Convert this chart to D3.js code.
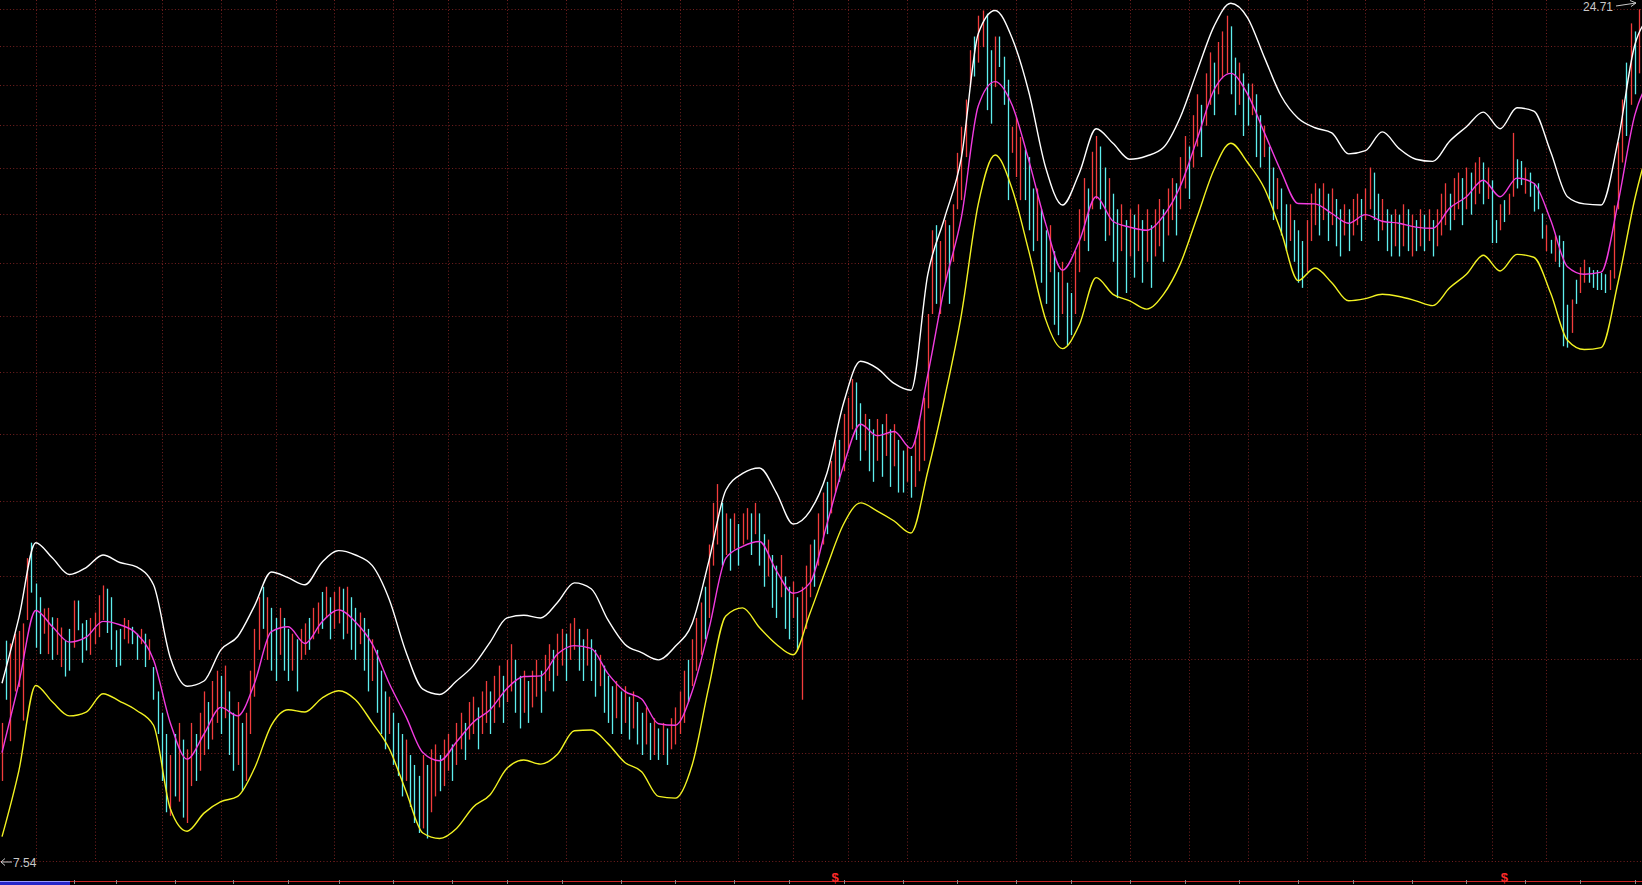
<!DOCTYPE html>
<html><head><meta charset="utf-8">
<script src="https://cdn.jsdelivr.net/npm/d3@7/dist/d3.min.js"></script>
<style>html,body{margin:0;padding:0;background:#000;overflow:hidden}</style>
</head><body>
<svg id="c" width="1642" height="885"></svg>
<script>
// daily lows / highs (price), and direction r = up (red), c = down (cyan)
const lows = [
8.43,9.44,8.91,9.55,9.61,9.17,10.55,10.96,10.15,10.06,
10.35,10.06,9.98,10.05,9.88,9.75,9.83,10.15,10.40,9.94,
10.11,10.05,10.20,10.30,10.55,10.36,10.12,9.88,9.90,10.27,
10.21,10.20,9.98,10.20,9.88,9.98,9.44,9.00,8.43,8.07,
8.03,8.25,8.19,8.01,7.95,8.37,8.43,8.55,8.74,8.81,
8.93,9.14,9.00,9.20,8.74,8.55,8.62,8.31,8.43,9.00,
9.48,10.12,10.42,9.98,9.83,9.69,10.05,9.83,9.69,9.83,
9.55,9.98,10.05,10.12,10.27,10.35,10.42,10.58,10.27,10.42,
10.50,10.27,10.35,10.12,9.98,10.20,9.83,9.55,9.69,9.27,
9.00,8.81,9.00,8.62,8.49,8.25,8.43,8.13,7.95,7.84,
7.89,7.78,8.07,8.25,8.31,8.37,8.55,8.43,8.62,8.81,
8.68,8.93,9.00,8.81,9.00,9.14,9.00,9.14,9.34,9.14,
9.41,9.55,9.27,9.07,9.27,9.14,9.34,9.48,9.27,9.55,
9.69,9.55,9.76,9.90,9.69,9.98,10.12,9.83,9.69,9.90,
9.69,9.48,9.62,9.27,9.14,9.00,9.20,9.00,9.14,8.93,
9.07,8.87,8.74,8.87,8.68,8.74,8.68,8.74,8.62,8.81,
8.87,9.00,9.14,9.41,9.62,9.83,10.05,10.27,10.58,11.38,
11.72,11.38,11.55,11.30,11.64,11.38,11.72,11.80,11.55,11.89,
11.38,11.05,11.21,10.73,10.58,10.89,10.42,10.27,10.58,10.12,
9.44,10.42,10.89,11.05,11.38,11.72,11.89,12.24,12.60,12.79,
12.98,13.36,13.76,13.56,13.17,13.36,12.98,12.79,13.17,12.88,
13.26,12.70,13.07,12.60,12.60,12.79,12.51,12.70,12.98,13.17,
14.17,16.16,16.39,16.16,16.88,16.39,17.38,18.70,18.94,20.11,
22.17,22.50,22.94,23.44,21.47,21.07,22.17,22.80,21.63,18.94,
20.23,19.56,18.94,18.94,18.16,17.64,17.89,16.88,16.39,17.13,
15.92,15.69,16.16,15.47,15.69,16.16,17.13,17.89,17.64,18.70,
18.97,18.70,17.89,18.03,17.38,16.52,17.64,16.64,17.51,17.00,
17.64,16.88,17.38,16.76,17.51,17.76,17.38,18.03,18.42,18.03,
18.70,19.25,18.97,19.82,20.41,20.11,21.01,21.63,21.32,21.95,
22.44,22.60,21.95,21.32,21.63,20.71,21.01,21.32,20.11,19.82,
20.11,18.97,18.42,18.70,18.03,17.64,17.89,17.38,16.88,16.76,
17.13,17.89,18.29,18.03,18.42,17.89,18.29,17.76,17.51,18.03,
17.64,18.03,18.29,17.89,18.42,18.70,18.42,17.89,18.16,17.64,
17.51,17.76,17.51,17.76,17.64,17.51,17.64,17.76,17.64,17.89,
17.51,17.76,18.03,18.29,18.16,18.42,18.70,18.29,18.70,18.56,
18.83,19.11,18.83,18.97,17.84,17.84,18.16,18.37,18.56,19.03,
19.25,19.34,19.11,19.03,18.64,18.70,17.95,17.64,17.58,17.38,
17.25,15.45,15.42,15.74,16.39,16.64,16.88,16.88,16.76,16.71,
16.71,16.64,16.71,16.98,18.70,19.96,20.71,21.63,21.95,22.60];
const highs = [
9.14,10.25,10.21,10.35,10.39,10.50,11.50,11.75,11.10,10.89,
10.72,10.73,10.59,10.58,10.44,10.25,10.42,10.84,10.84,10.50,
10.55,10.58,10.66,10.92,11.07,11.02,10.89,10.40,10.42,10.58,
10.55,10.45,10.35,10.42,10.35,10.27,9.88,9.55,9.27,9.00,
8.74,9.00,9.14,8.93,8.81,9.14,9.00,9.27,9.55,9.41,
9.69,9.83,9.76,9.90,9.55,9.27,9.41,9.14,9.27,9.83,
10.42,10.89,11.05,10.89,10.73,10.58,10.73,10.58,10.42,10.35,
10.27,10.42,10.50,10.58,10.73,10.81,10.97,11.05,10.89,10.97,
11.05,11.02,11.05,10.89,10.73,10.66,10.58,10.42,10.27,10.12,
9.83,9.55,9.48,9.27,9.14,9.00,8.93,8.74,8.62,8.49,
8.74,8.62,8.81,8.87,8.74,8.93,9.00,8.87,9.14,9.27,
9.14,9.41,9.48,9.34,9.55,9.69,9.55,9.76,9.90,9.76,
9.98,10.20,9.98,9.76,9.83,9.69,9.83,9.98,9.83,10.05,
10.20,10.12,10.35,10.42,10.35,10.50,10.58,10.42,10.27,10.42,
10.27,10.12,10.05,9.90,9.76,9.62,9.69,9.55,9.62,9.48,
9.55,9.41,9.27,9.34,9.14,9.20,9.07,9.14,9.07,9.20,
9.34,9.55,9.83,9.98,10.27,10.58,10.81,11.05,11.72,12.42,
12.75,12.42,12.24,12.15,12.24,12.06,12.24,12.33,12.24,12.42,
12.24,11.89,11.80,11.55,11.38,11.55,11.21,11.05,11.13,10.89,
11.05,11.38,11.72,11.80,12.24,12.60,12.79,13.17,13.56,13.56,
14.06,14.38,14.76,14.69,14.27,14.06,13.96,13.76,13.96,13.86,
14.06,13.76,13.86,13.56,13.36,13.46,13.26,13.56,13.96,14.38,
16.16,18.16,18.29,17.89,18.42,18.29,18.83,20.23,20.98,21.79,
23.34,23.79,24.49,24.67,24.56,23.34,23.79,23.79,23.13,22.40,
20.98,21.26,20.68,20.32,20.11,19.25,19.25,18.70,18.16,18.29,
17.64,17.13,17.38,16.88,16.64,17.64,18.70,19.53,19.25,20.26,
20.71,20.41,19.82,19.53,19.11,18.70,18.83,18.42,18.70,18.56,
18.83,18.42,18.70,18.29,18.70,18.97,18.70,19.25,19.53,19.39,
20.11,20.71,20.41,21.32,21.95,21.63,22.60,23.27,22.94,23.61,
23.96,24.49,24.13,23.10,22.94,22.60,22.28,22.28,21.95,21.32,
21.01,20.41,19.82,19.53,19.25,18.83,18.83,18.42,18.16,17.89,
18.42,19.11,19.39,19.25,19.39,19.11,19.25,18.97,18.70,18.83,
18.70,18.97,19.11,18.97,19.25,19.82,19.68,19.11,18.97,18.70,
18.56,18.70,18.56,18.83,18.70,18.56,18.42,18.70,18.56,18.70,
18.42,18.70,19.11,19.39,19.11,19.53,19.68,19.53,19.82,19.68,
19.96,20.11,19.96,19.82,19.47,18.42,18.83,18.94,19.11,20.80,
20.05,20.00,19.82,19.68,19.39,19.39,18.59,18.29,17.92,18.03,
18.03,17.89,16.37,16.49,16.95,17.25,17.43,17.25,17.18,17.18,
17.11,17.08,17.18,18.80,20.53,21.79,22.94,24.23,23.96,24.71];
const dirs =
"rcrrrrrccc"+"rrcrrccrcc"+"crrrrccccr"+"rccrcrcccc"+"rcrcrrcrrc"+
"rrcrccrcrr"+"rrcrccrccr"+"crrcrrcrcr"+"rcrccrccrc"+"ccrcccrccc"+
"rcrrcrrcrr"+"crrcrrcrrc"+"rrccrcrrcr"+"rcrrcrrccr"+"ccrcccrcrc"+
"rccrcrcrcr"+"rrrcrrrcrr"+"rcrcrcrrcr"+"ccrccrccrc"+"rrrcrrcrrc"+
"rrrccrccrc"+"rcrccrcrrr"+"rrcrrcrrrr"+"rcrrccrccc"+"rrrcccrccr"+
"ccrccrrrcr"+"rccrccrcrc"+"rcrcrrcrrc"+"rrcrrcrrcr"+"rrccrccrcc"+
"rccrccrccc"+"rrrcrcrccr"+"crrcrrccrc"+"crcrcrcrcr"+"crrrcrrcrc"+
"rrcrccrcrr"+"ccrccccrcr"+"cccrcrrccc"+"ccrrrrcrcr";

// BOLL lines, one value every 4 trading days
const bandStep = 4;
const upper = [9.66,10.58,11.75,11.50,11.24,11.35,11.55,11.43,11.36,11.08,
10.01,9.62,9.69,10.12,10.31,10.76,11.28,11.19,11.08,11.43,
11.62,11.55,11.38,10.86,10.09,9.58,9.51,9.69,9.90,10.23,
10.58,10.62,10.58,10.81,11.11,11.02,10.55,10.20,10.08,9.98,
10.17,10.50,11.46,12.64,12.94,13.04,12.60,12.06,12.28,12.94,
14.28,15.13,14.98,14.67,14.53,17.08,18.48,20.11,23.89,24.67,
23.75,22.02,19.82,18.81,19.67,20.92,20.50,20.05,20.14,20.38,
21.26,22.67,24.13,24.92,24.42,23.10,21.89,21.23,20.95,20.80,
20.20,20.29,20.83,20.35,20.05,19.99,20.56,20.98,21.41,20.92,
21.54,21.44,20.26,19.03,18.84,18.81,20.56,23.51,24.49];
const mid = [8.77,9.66,10.69,10.45,10.23,10.30,10.53,10.48,10.35,9.98,
9.14,8.69,9.00,9.34,9.23,9.66,10.38,10.45,10.21,10.52,
10.70,10.52,10.20,9.66,9.22,8.77,8.67,8.90,9.15,9.31,
9.59,9.75,9.76,10.06,10.18,10.14,9.79,9.55,9.45,9.13,
9.11,9.55,10.42,11.50,11.69,11.77,11.30,10.95,11.11,12.05,
13.09,13.86,13.64,13.72,13.40,14.85,16.80,18.50,21.60,22.34,
21.63,20.02,18.33,17.18,17.89,19.03,18.39,18.24,18.16,18.53,
19.31,20.62,22.08,22.60,21.95,20.80,19.70,18.85,18.84,18.59,
18.34,18.56,18.39,18.34,18.24,18.21,18.73,19.03,19.47,19.03,
19.53,19.39,18.42,17.26,17.08,17.13,18.86,21.32,22.44];
const lower = [7.80,8.55,9.63,9.41,9.23,9.28,9.52,9.42,9.30,9.11,
8.11,7.86,8.06,8.19,8.25,8.58,9.11,9.31,9.28,9.46,
9.56,9.44,9.14,8.82,8.31,7.84,7.78,7.89,8.13,8.27,
8.58,8.68,8.63,8.75,9.04,9.05,8.88,8.65,8.54,8.25,
8.23,8.62,9.62,10.61,10.73,10.44,10.20,10.05,10.65,11.36,
12.06,12.42,12.28,12.11,11.91,12.98,14.38,16.16,18.84,20.17,
19.25,17.64,16.04,15.40,15.92,17.00,16.61,16.46,16.27,16.61,
17.33,18.50,19.76,20.50,19.96,19.25,18.11,16.93,17.23,16.88,
16.46,16.51,16.61,16.56,16.46,16.35,16.76,17.08,17.54,17.16,
17.56,17.49,16.64,15.58,15.38,15.42,16.88,18.97,20.71];

const gridPrices = [7.54,8.77,9.99,11.22,12.45,13.67,14.90,16.12,17.35,18.58,19.80,21.03,22.25,23.48,24.71];
const vgridIdx = [8,22,38,52,65,79,93,106,120,134,147,161,175,188,201,215,241,254,268,282,296,310,324,338,354,367];
const axisTickIdx = [17,27,41,55,68,80,93,107,120,133,147,160,174,187,200,214,227,241,254,268,281,294,308,321,335,348,362,375,388];
const markerIdx = [198,357];
const maxLabel = "24.71", minLabel = "7.54";

const W = 1642, H = 885;
const svg = d3.select("#c");
svg.append("rect").attr("width", W).attr("height", H).attr("fill", "#000");

const N = lows.length;
const x = d3.scaleLinear().domain([0, N - 1]).range([2, 1639]);
const y = d3.scaleLog().domain([7.54, 24.71]).range([861, 9.3]);

svg.append("defs").append("clipPath").attr("id", "plot")
  .append("rect").attr("x", 0).attr("y", 0).attr("width", W).attr("height", 862);

// grid
const grid = svg.append("g").attr("stroke", "#762020").attr("stroke-width", 1)
  .attr("stroke-dasharray", "1,2.3");
grid.selectAll("line.h").data(gridPrices).join("line").attr("class", "h")
  .attr("x1", 0).attr("x2", W)
  .attr("y1", d => Math.round(y(d)) + 0.5).attr("y2", d => Math.round(y(d)) + 0.5);
grid.selectAll("line.v").data(vgridIdx).join("line").attr("class", "v")
  .attr("y1", 0).attr("y2", 862)
  .attr("x1", d => Math.round(x(d)) + 0.5).attr("x2", d => Math.round(x(d)) + 0.5);

// candles (high-low lines)
const plot = svg.append("g").attr("clip-path", "url(#plot)");
plot.append("g").selectAll("line").data(d3.range(N)).join("line")
  .attr("x1", i => Math.round(x(i)) + 0.5).attr("x2", i => Math.round(x(i)) + 0.5)
  .attr("y1", i => y(highs[i])).attr("y2", i => y(lows[i]))
  .attr("stroke", i => dirs[i] === "r" ? "#f23c3c" : "#5eeeee")
  .attr("stroke-width", 1.3);

// BOLL
const line = d3.line().x((d, k) => x(k * bandStep)).y(d => y(d)).curve(d3.curveMonotoneX);
[[upper, "#ffffff"], [lower, "#f2f222"], [mid, "#f23ce0"]].forEach(([arr, col]) => {
  plot.append("path").datum(arr).attr("d", line).attr("fill", "none")
    .attr("stroke", col).attr("stroke-width", 1.4);
});

// bottom axis strip
svg.append("line").attr("x1", 70).attr("x2", W).attr("y1", 881.5).attr("y2", 881.5)
  .attr("stroke", "#d02424").attr("stroke-width", 1);
svg.append("g").selectAll("line").data(axisTickIdx).join("line")
  .attr("x1", d => Math.round(x(d)) + 0.5).attr("x2", d => Math.round(x(d)) + 0.5)
  .attr("y1", 880).attr("y2", 884).attr("stroke", "#8a8a8a").attr("stroke-width", 1);
svg.append("rect").attr("x", 0).attr("y", 881).attr("width", 70).attr("height", 4).attr("fill", "#2626c8");
svg.append("line").attr("x1", 0).attr("x2", 70).attr("y1", 881.5).attr("y2", 881.5).attr("stroke", "#9a9aff");

svg.append("g").selectAll("text").data(markerIdx).join("text")
  .attr("x", d => x(d)).attr("y", 882).attr("text-anchor", "middle")
  .attr("fill", "#ff2a2a").attr("font-family", "Liberation Sans, Arial, sans-serif")
  .attr("font-size", 13).attr("font-weight", "bold").text("$");

// max / min labels
const lab = svg.append("g").attr("fill", "#c8c8c8")
  .attr("font-family", "Liberation Sans, Arial, sans-serif").attr("font-size", 12);
lab.append("text").attr("x", 1613).attr("y", 10.5).attr("text-anchor", "end").text(maxLabel);
lab.append("text").attr("x", 13).attr("y", 866.5).text(minLabel);
svg.append("path").attr("d", "M1616,6 L1636,3 M1630,0.5 L1636,3 L1631,6.5")
  .attr("fill", "none").attr("stroke", "#c8c8c8").attr("stroke-width", 1);
svg.append("path").attr("d", "M12,862 L1,862 M5,858.5 L1,862 L5,865.5")
  .attr("fill", "none").attr("stroke", "#c8c8c8").attr("stroke-width", 1);
</script>
</body></html>
